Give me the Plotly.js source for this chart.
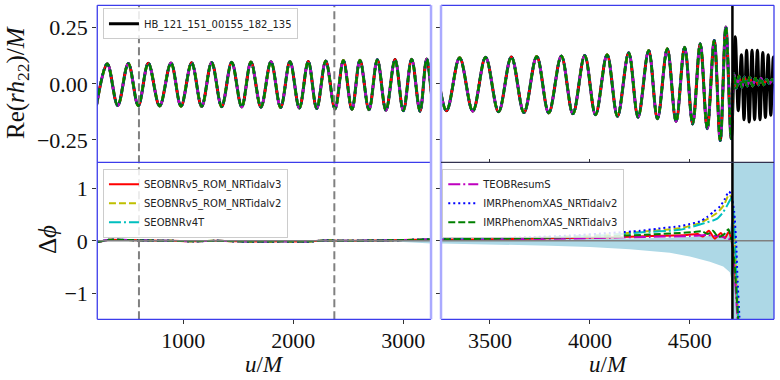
<!DOCTYPE html>
<html>
<head>
<meta charset="utf-8">
<script src="https://cdn.plot.ly/plotly-3.0.1.min.js"></script>
<style>
html, body { margin: 0; padding: 0; background: #fff; }
#chart { width: 780px; height: 380px; }
</style>
</head>
<body>
<div id="chart"></div>
<script>
// Re(r h22)/M : peaks and troughs (shared by NR and models up to merger)
var insp_u = [212, 309, 404, 500, 591, 682, 785, 888, 979, 1076, 1167, 1258, 1349, 1440, 1531, 1615, 1706, 1797, 1885, 1970,
              2055, 2136, 2213, 2295, 2379, 2455, 2533, 2606, 2688, 2764, 2842, 2925, 3000, 3076, 3152, 3213, 3282, 3348, 3414, 3478,
              3543, 3607, 3670, 3734, 3794, 3857, 3915, 3974, 4028, 4086, 4138, 4194, 4241, 4294, 4338, 4387, 4431, 4474, 4514, 4552,
              4587, 4622, 4652, 4680, 4707];
var insp_h = [-0.095, 0.090, -0.097, 0.091, -0.098, 0.092, -0.099, 0.093, -0.100, 0.094,
              -0.101, 0.095, -0.102, 0.096, -0.103, 0.097, -0.104, 0.098, -0.106, 0.099,
              -0.108, 0.100, -0.110, 0.102, -0.112, 0.104, -0.114, 0.105, -0.116, 0.107,
              -0.118, 0.108, -0.120, 0.110, -0.122, 0.111, -0.120, 0.116, -0.122, 0.118,
              -0.125, 0.120, -0.128, 0.122, -0.130, 0.124, -0.134, 0.126, -0.138, 0.130,
              -0.145, 0.138, -0.149, 0.149, -0.156, 0.156, -0.168, 0.163, -0.179, 0.179,
              -0.200, 0.193, -0.253, 0.253, -0.245];

// post-merger part
var nr_tail_u = [4727, 4742, 4758, 4771, 4784, 4797, 4811, 4824, 4838, 4851, 4865, 4878, 4892, 4905, 4918, 4931];
var nr_tail_h = [0.21, -0.12, 0.13, -0.16, 0.15, -0.17, 0.15, -0.16, 0.15, -0.16, 0.14, -0.15, 0.13, -0.14, 0.12, -0.12];
var model_tail_u = [4720, 4733, 4746, 4760, 4773, 4787, 4800, 4814, 4828, 4842, 4856, 4870, 4884, 4898, 4912, 4926];
var model_tail_h = [0.045, -0.02, 0.035, -0.015, 0.03, -0.01, 0.03, -0.01, 0.025, -0.005, 0.025, -0.005, 0.02, 0.0, 0.02, 0.0];

// phase difference, inspiral part (all models sit on top of each other)
var dphi_early_u = [218, 330, 500, 700, 900, 1100, 1300, 1500, 1700, 1900, 2100, 2300, 2500, 2700, 2900, 3100, 3200];
var dphi_early = [-0.025, 0.02, 0.015, 0.005, 0.0, -0.01, 0.0, -0.01, -0.015, -0.01, -0.015, 0.005, 0.0, 0.005, 0.01, 0.02, 0.025];

// phase difference near merger, per model
var red_u = [3300, 3500, 3700, 3900, 4100, 4300, 4485, 4540, 4565, 4595, 4625, 4655, 4675, 4695, 4707, 4716, 4726, 4736, 4745];
var red_dphi = [0.025, 0.03, 0.04, 0.055, 0.07, 0.09, 0.11, 0.13, 0.08, 0.19, 0.04, 0.15, 0.05, 0.17, 0.03, -0.2, -0.6, -1.2, -1.7];
var yel_u = [3300, 3500, 3700, 3900, 4100, 4250, 4450, 4550, 4635, 4670, 4695, 4705, 4712, 4720, 4728, 4736, 4745];
var yel_dphi = [0.03, 0.045, 0.06, 0.085, 0.12, 0.17, 0.24, 0.34, 0.53, 0.68, 0.88, 0.85, 0.7, 0.3, -0.3, -1.0, -1.7];
var cyan_u = [3300, 3500, 3700, 3900, 4100, 4250, 4450, 4550, 4635, 4667, 4690, 4708, 4716, 4724, 4732, 4740, 4746];
var cyan_dphi = [0.03, 0.04, 0.055, 0.08, 0.11, 0.16, 0.21, 0.31, 0.42, 0.55, 0.7, 0.82, 0.65, 0.1, -0.6, -1.3, -1.7];
var mag_u = [3300, 3500, 3700, 3900, 4100, 4300, 4500, 4585, 4652, 4698, 4712, 4722, 4732, 4742];
var mag_dphi = [0.02, 0.025, 0.035, 0.045, 0.06, 0.075, 0.09, 0.11, 0.08, 0.03, -0.05, -0.5, -1.1, -1.7];
var blue_u = [3300, 3500, 3700, 3900, 4100, 4250, 4335, 4450, 4500, 4550, 4585, 4620, 4652, 4675, 4695, 4705, 4712, 4722, 4732, 4738, 4748, 4752];
var blue_dphi = [0.035, 0.05, 0.07, 0.1, 0.15, 0.19, 0.23, 0.28, 0.32, 0.37, 0.45, 0.56, 0.66, 0.8, 0.94, 0.9, 0.8, 0.55, -0.05, -0.68, -1.45, -1.7];
var green_u = [3300, 3500, 3700, 3900, 4100, 4300, 4450, 4520, 4560, 4590, 4615, 4643, 4670, 4693, 4706, 4715, 4725, 4735, 4745];
var green_dphi = [0.03, 0.04, 0.05, 0.07, 0.09, 0.12, 0.15, 0.17, 0.18, 0.13, 0.19, 0.07, 0.12, 0.22, 0.05, -0.1, -0.5, -1.1, -1.7];

// NR error band
var band_u = [218, 600, 1000, 1500, 2000, 2500, 3000, 3255, 3400, 3600, 3800, 4000, 4200, 4400, 4500, 4600, 4667, 4700, 4708, 4714, 4718, 4722, 4930];
var band_lo = [-0.004, -0.005, -0.006, -0.008, -0.01, -0.015, -0.025, -0.05, -0.06, -0.075, -0.095, -0.12, -0.16, -0.23, -0.3, -0.4, -0.49, -0.6, -0.75, -1.2, -2, -3, -3];
var band_hi = [0.004, 0.005, 0.006, 0.008, 0.01, 0.012, 0.015, 0.02, 0.02, 0.025, 0.03, 0.035, 0.045, 0.06, 0.07, 0.09, 0.12, 0.2, 0.4, 1.0, 2, 3, 3];

var window_u = [597, 2373];
var merger_u = 4713;

var nr_name = 'HB_121_151_00155_182_135';
var models = [
    {name: 'SEOBNRv5_ROM_NRTidalv3', color: '#ff0000', dash: 'solid', leg: 'legend2', u: red_u, dphi: red_dphi},
    {name: 'SEOBNRv5_ROM_NRTidalv2', color: '#bfbf00', dash: '7px,3px', leg: 'legend2', u: yel_u, dphi: yel_dphi},
    {name: 'SEOBNRv4T', color: '#00bfbf', dash: '12px,3px,2px,3px', leg: 'legend2', u: cyan_u, dphi: cyan_dphi},
    {name: 'TEOBResumS', color: '#bf00bf', dash: '12px,3px,2px,3px', leg: 'legend3', u: mag_u, dphi: mag_dphi},
    {name: 'IMRPhenomXAS_NRTidalv2', color: '#0000ff', dash: '2px,3px', leg: 'legend3', u: blue_u, dphi: blue_dphi},
    {name: 'IMRPhenomXAS_NRTidalv3', color: '#008000', dash: '7px,3px', leg: 'legend3', u: green_u, dphi: green_dphi}
];

var mathFont = 'Liberation Serif, DejaVu Serif, serif';
var legFont = 'DejaVu Sans, sans-serif';

var traces = [];

// error band in both lower panels
[['x3', 'y3'], ['x4', 'y4']].forEach(function (ax) {
    traces.push({x: band_u, y: band_lo, xaxis: ax[0], yaxis: ax[1], mode: 'lines',
                 line: {width: 0, color: '#add8e6'}, showlegend: false, hoverinfo: 'skip'});
    traces.push({x: band_u, y: band_hi, xaxis: ax[0], yaxis: ax[1], mode: 'lines', fill: 'tonexty',
                 fillcolor: '#add8e6', line: {width: 0, color: '#add8e6'}, showlegend: false, hoverinfo: 'skip'});
});

// NR waveform
var nr_u = insp_u.concat(nr_tail_u);
var nr_h = insp_h.concat(nr_tail_h);
traces.push({x: nr_u, y: nr_h, xaxis: 'x', yaxis: 'y', mode: 'lines', name: nr_name, legend: 'legend',
             line: {color: '#000000', width: 3, shape: 'spline', smoothing: 1}});
traces.push({x: nr_u, y: nr_h, xaxis: 'x2', yaxis: 'y2', mode: 'lines', showlegend: false,
             line: {color: '#000000', width: 3, shape: 'spline', smoothing: 1}});

var mod_u = insp_u.concat(model_tail_u);
var mod_h = insp_h.concat(model_tail_h);

models.forEach(function (m) {
    var lineTop = {color: m.color, width: 2.5, dash: m.dash, shape: 'spline', smoothing: 1};
    var lineBot = {color: m.color, width: 2, dash: m.dash, shape: 'spline', smoothing: 0.6};
    var du = dphi_early_u.concat(m.u);
    var dp = dphi_early.concat(m.dphi);
    traces.push({x: mod_u, y: mod_h, xaxis: 'x', yaxis: 'y', mode: 'lines', showlegend: false, line: lineTop});
    traces.push({x: mod_u, y: mod_h, xaxis: 'x2', yaxis: 'y2', mode: 'lines', showlegend: false, line: lineTop});
    traces.push({x: du, y: dp, xaxis: 'x3', yaxis: 'y3', mode: 'lines', name: m.name, legend: m.leg, line: lineBot});
    traces.push({x: du, y: dp, xaxis: 'x4', yaxis: 'y4', mode: 'lines', showlegend: false, line: lineBot});
});

// panel geometry (paper fractions)
var xL = [0.1247, 0.5526], xR = [0.5654, 0.9923];
var yT = [0.5729, 0.986], yB = [0.1597, 0.5729];

var tickFont = {family: mathFont, size: 22, color: '#111'};
function xax(dom, rng, anchor, extra) {
    var a = {domain: dom, range: rng, anchor: anchor, showgrid: false, zeroline: false, showline: false,
             ticks: '', showticklabels: false, tickfont: tickFont};
    return Object.assign(a, extra || {});
}
function yax(dom, rng, anchor, extra) {
    var a = {domain: dom, range: rng, anchor: anchor, showgrid: false, zeroline: false, showline: false,
             ticks: 'outside', ticklen: 4, tickwidth: 1, tickcolor: '#333', tickfont: tickFont};
    return Object.assign(a, extra || {});
}

var blue = 'rgb(60,60,235)', light = 'rgb(170,170,255)', dark = 'rgb(50,50,80)';
function seg(x0, y0, x1, y1, color, w) {
    return {type: 'line', xref: 'paper', yref: 'paper', x0: x0, y0: y0, x1: x1, y1: y1,
            line: {color: color, width: w}, layer: 'above'};
}

var shapes = [];
// zero lines in the phase panels
shapes.push({type: 'line', xref: 'paper', yref: 'y3', x0: xL[0], x1: xL[1], y0: 0, y1: 0, line: {color: '#808080', width: 1.5}, layer: 'above'});
shapes.push({type: 'line', xref: 'paper', yref: 'y4', x0: xR[0], x1: xR[1], y0: 0, y1: 0, line: {color: '#808080', width: 1.5}, layer: 'above'});
// window markers
window_u.forEach(function (u) {
    shapes.push({type: 'line', xref: 'x', yref: 'paper', x0: u, x1: u, y0: yB[0], y1: yT[1],
                 line: {color: '#808080', width: 2, dash: '8px,4px'}, layer: 'above'});
});
// merger
shapes.push({type: 'line', xref: 'x2', yref: 'paper', x0: merger_u, x1: merger_u, y0: yB[0], y1: yT[1],
             line: {color: '#000', width: 2.5}, layer: 'above'});
// frames (broken-axis style)
shapes.push(seg(xL[0], yT[1], xL[1], yT[1], blue, 1.3));
shapes.push(seg(xL[0], yT[0], xL[1], yT[0], blue, 1.3));
shapes.push(seg(xL[0], yB[0], xL[1], yB[0], blue, 1.3));
shapes.push(seg(xL[0], yB[0], xL[0], yT[1], blue, 1.3));
shapes.push(seg(xL[1], yB[0], xL[1], yT[1], light, 2.5));
shapes.push(seg(xR[0], yT[1], xR[1], yT[1], blue, 1.3));
shapes.push(seg(xR[0], yB[0], xR[1], yB[0], blue, 1.3));
shapes.push(seg(xR[1], yB[0], xR[1], yT[1], blue, 1.3));
shapes.push(seg(xR[0], yB[0], xR[0], yT[1], light, 2.5));
shapes.push(seg(xR[0], yT[0], xR[1], yT[0], dark, 1.3));

var legBase = {bgcolor: 'rgba(255,255,255,0.85)', bordercolor: '#cccccc', borderwidth: 1,
               font: {family: legFont, size: 10, color: '#222'}, xanchor: 'left', yanchor: 'top',
               itemwidth: 30, tracegroupgap: 0};

var titleFont = {family: mathFont, size: 25, color: '#111'};
var xTitleFont = {family: mathFont, size: 23, color: '#111'};

var layout = {
    width: 780, height: 380, autosize: false,
    margin: {l: 0, r: 0, t: 0, b: 0},
    paper_bgcolor: '#fff', plot_bgcolor: 'rgba(0,0,0,0)',
    showlegend: true, hovermode: false,
    xaxis: xax(xL, [218, 3252], 'y'),
    yaxis: yax(yT, [-0.35, 0.35], 'x', {tickvals: [-0.25, 0, 0.25], tickformat: '.2f'}),
    xaxis2: xax(xR, [3255, 4921], 'y2', {ticks: 'inside', ticklen: 3, tickcolor: '#333', tickvals: [3500, 4000, 4500]}),
    yaxis2: yax(yT, [-0.35, 0.35], 'x2', {tickvals: [-0.25, 0, 0.25], showticklabels: false}),
    xaxis3: xax(xL, [218, 3252], 'y3', {ticks: 'outside', ticklen: 4, tickcolor: '#333', showticklabels: true,
                                        tickvals: [1000, 2000, 3000], ticklabelstandoff: -3}),
    yaxis3: yax(yB, [-1.5, 1.5], 'x3', {tickvals: [-1, 0, 1]}),
    xaxis4: xax(xR, [3255, 4921], 'y4', {ticks: 'outside', ticklen: 4, tickcolor: '#333', showticklabels: true,
                                        tickvals: [3500, 4000, 4500], ticklabelstandoff: -3}),
    yaxis4: yax(yB, [-1.5, 1.5], 'x4', {tickvals: [-1, 0, 1], showticklabels: false}),
    legend: Object.assign({}, legBase, {x: 0.132, y: 0.978}),
    legend2: Object.assign({}, legBase, {x: 0.132, y: 0.556}),
    legend3: Object.assign({}, legBase, {x: 0.567, y: 0.556}),
    shapes: shapes,
    annotations: [
        {text: 'Re(<i>rh</i><sub>22</sub>)/<i>M</i>', xref: 'paper', yref: 'paper', x: 17 / 780, y: 1 - 83 / 380,
         xanchor: 'center', yanchor: 'middle', textangle: -90, showarrow: false, font: titleFont},
        {text: '\u0394<i>\u03d5</i>', xref: 'paper', yref: 'paper', x: 47 / 780, y: 1 - 240 / 380,
         xanchor: 'center', yanchor: 'middle', textangle: -90, showarrow: false, font: titleFont},
        {text: '<i>u</i>/<i>M</i>', xref: 'paper', yref: 'paper', x: 264 / 780, y: 1 - 364 / 380,
         xanchor: 'center', yanchor: 'middle', showarrow: false, font: xTitleFont},
        {text: '<i>u</i>/<i>M</i>', xref: 'paper', yref: 'paper', x: 608 / 780, y: 1 - 364 / 380,
         xanchor: 'center', yanchor: 'middle', showarrow: false, font: xTitleFont}
    ]
};

Plotly.newPlot('chart', traces, layout, {displayModeBar: false, staticPlot: true});
</script>
</body>
</html>
